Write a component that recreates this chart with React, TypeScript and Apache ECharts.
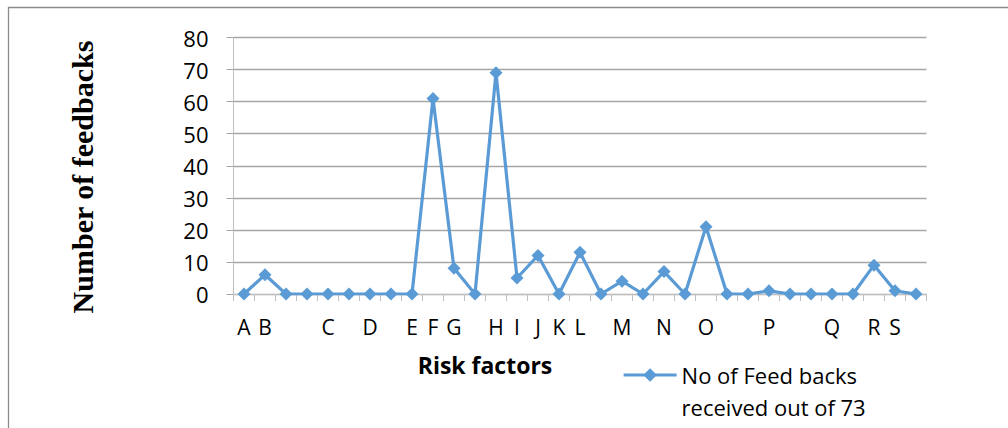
import React, { useEffect, useRef } from "react";
import * as echarts from "echarts";

// Risk factor labels along the category axis (blank slots carry no label)
const categories: string[] = [
  "A", "B", "", "", "C", "", "D", "", "E", "F", "G", "", "H", "I", "J", "K", "L",
  "", "M", "", "N", "", "O", "", "", "P", "", "", "Q", "", "R", "S", "",
];

// Number of feedbacks received for each slot
const feedbacks: number[] = [
  0, 6, 0, 0, 0, 0, 0, 0, 0, 61, 8, 0, 69, 5, 12, 0, 13,
  0, 4, 0, 7, 0, 21, 0, 0, 1, 0, 0, 0, 0, 9, 1, 0,
];

const yTicks: number[] = [0, 10, 20, 30, 40, 50, 60, 70, 80];

const seriesName = "No of Feed backs\nreceived out of 73";
const xTitle = "Risk factors";
const yTitle = "Number of feedbacks";

const SANS = "'Open Sans', 'Noto Sans', sans-serif";
const BLUE = "#5B9BD5";

export default function App() {
  const ref = useRef<HTMLDivElement>(null);

  useEffect(() => {
    if (!ref.current) return;
    const chart = echarts.init(ref.current, undefined, { renderer: "svg" });
    chart.setOption({
      animation: false,
      backgroundColor: "#ffffff",
      grid: { left: 233.5, right: 81.5, top: 37.5, bottom: 134, containLabel: false },
      xAxis: {
        type: "category",
        data: categories,
        boundaryGap: true,
        axisLine: { show: true, lineStyle: { color: "#BFBFBF", width: 1 } },
        axisTick: { show: true, interval: 0, length: 7, lineStyle: { color: "#BFBFBF" } },
        axisLabel: {
          interval: 0,
          margin: 22,
          color: "#000",
          fontFamily: SANS,
          fontSize: 21,
        },
        splitLine: { show: false },
      },
      yAxis: {
        type: "value",
        min: yTicks[0],
        max: yTicks[yTicks.length - 1],
        interval: 10,
        axisLine: { show: true, lineStyle: { color: "#BFBFBF", width: 1 } },
        axisTick: { show: true, length: 7, lineStyle: { color: "#A6A6A6" } },
        axisLabel: {
          margin: 25,
          color: "#000",
          fontFamily: SANS,
          fontSize: 22,
        },
        splitLine: { show: true, lineStyle: { color: "#A6A6A6", width: 1.3 } },
      },
      legend: {
        show: true,
        left: 617,
        top: 322,
        padding: 5,
        orient: "vertical",
        itemWidth: 53,
        itemHeight: 17,
        itemGap: 0,
        lineStyle: { width: 3.2, color: BLUE },
        itemStyle: { color: BLUE },
        // a leading blank line keeps the marker level with the first text line
        formatter: (name: string) => "\n" + name,
        textStyle: {
          color: "#000",
          fontFamily: SANS,
          fontSize: 22,
          lineHeight: 32,
        },
        data: [{ name: seriesName }],
      },
      graphic: [
        {
          type: "rect",
          silent: true,
          shape: { x: 8.5, y: 7.5, width: 1200, height: 600 },
          style: { fill: "none", stroke: "#8C8C8C", lineWidth: 1.3 },
        },
        {
          type: "text",
          x: 485,
          y: 365,
          style: {
            text: xTitle,
            fontFamily: SANS,
            fontWeight: "bold",
            fontSize: 23,
            fill: "#000",
            align: "center",
            verticalAlign: "middle",
          },
        },
        {
          type: "text",
          x: 82,
          y: 177,
          rotation: Math.PI / 2,
          style: {
            text: yTitle,
            fontFamily: "'Liberation Serif', 'DejaVu Serif', serif",
            fontWeight: "bold",
            fontSize: 30,
            fill: "#000",
            align: "center",
            verticalAlign: "middle",
          },
        },
      ],
      series: [
        {
          name: seriesName,
          type: "line",
          data: feedbacks,
          symbol: "diamond",
          symbolSize: 13,
          showAllSymbol: true,
          lineStyle: { color: BLUE, width: 3.2 },
          itemStyle: { color: BLUE },
        },
      ],
    });
    return () => chart.dispose();
  }, []);

  return (
    <div
      ref={ref}
      style={{ position: "absolute", left: 0, top: 0, width: 1008, height: 428 }}
    />
  );
}
